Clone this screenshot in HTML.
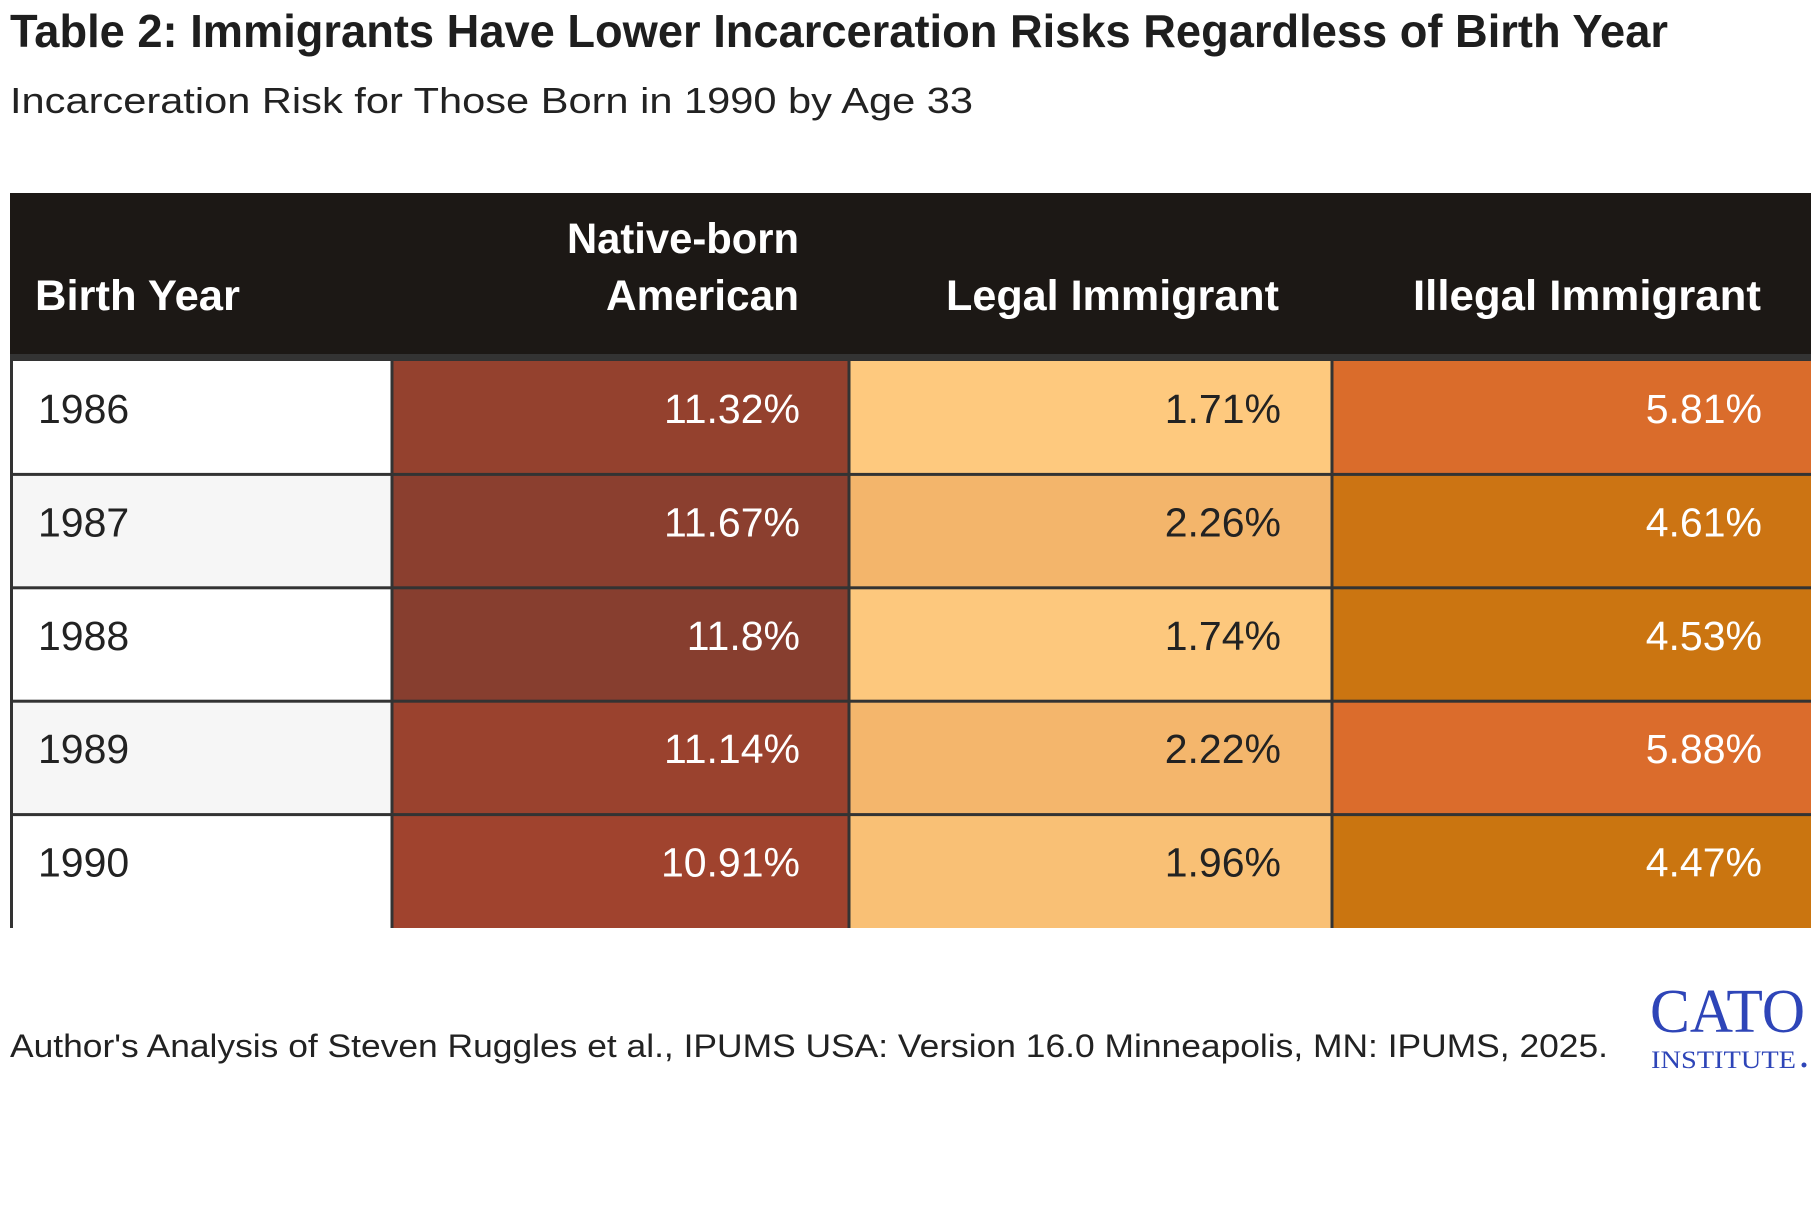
<!DOCTYPE html>
<html><head><meta charset="utf-8"><style>
html,body{margin:0;padding:0;background:#fff;width:1820px;height:1220px;overflow:hidden}
svg{display:block}
.sans{font-family:"Liberation Sans",sans-serif}
.serif{font-family:"Liberation Serif",serif}
</style></head><body>
<svg id="chart" class="sans" width="1820" height="1220" viewBox="0 0 1820 1220">
<text x="10" y="47" font-size="46" font-weight="bold" fill="#1e1e1e" textLength="1658" lengthAdjust="spacingAndGlyphs">Table 2: Immigrants Have Lower Incarceration Risks Regardless of Birth Year</text>
<text x="10" y="113" font-size="36" fill="#222" textLength="963" lengthAdjust="spacingAndGlyphs">Incarceration Risk for Those Born in 1990 by Age 33</text>
<g id="table"></g>
<text x="10" y="1057" font-size="32" fill="#222" textLength="1598" lengthAdjust="spacingAndGlyphs">Author's Analysis of Steven Ruggles et al., IPUMS USA: Version 16.0 Minneapolis, MN: IPUMS, 2025.</text>
<g class="serif">
<text class="serif" x="1650" y="1032" font-size="62" fill="#2e45b8" textLength="155" lengthAdjust="spacingAndGlyphs">CATO</text>
<text class="serif" x="1651" y="1068" font-size="25" fill="#2e45b8" textLength="145" lengthAdjust="spacingAndGlyphs">INSTITUTE</text>
<circle cx="1804" cy="1065" r="2.5" fill="#2e45b8"/>
</g>
</svg>
<script>
const years = ["1986","1987","1988","1989","1990"];
const nativeVals = [11.32, 11.67, 11.8, 11.14, 10.91];
const legalVals = [1.71, 2.26, 1.74, 2.22, 1.96];
const illegalVals = [5.81, 4.61, 4.53, 5.88, 4.47];
const nativeLabels = ["11.32%","11.67%","11.8%","11.14%","10.91%"];
const legalLabels = ["1.71%","2.26%","1.74%","2.22%","1.96%"];
const illegalLabels = ["5.81%","4.61%","4.53%","5.88%","4.47%"];

const NS="http://www.w3.org/2000/svg";
const g=document.getElementById('table');
function mk(tag,attrs,parent){const e=document.createElementNS(NS,tag);for(const k in attrs)e.setAttribute(k,attrs[k]);(parent||g).appendChild(e);return e;}
function lerp(a,b,t){return a.map((v,i)=>Math.round(v+(b[i]-v)*t));}
function rgb(c){return 'rgb('+c.join(',')+')';}
function nativeColor(v){const t=Math.max(0,Math.min(1,(v-10.91)/(11.8-10.91)));return rgb(lerp([160,67,46],[135,62,47],t));}
function legalColor(v){const t=Math.max(0,Math.min(1,(v-1.71)/(2.26-1.71)));return rgb(lerp([254,201,126],[243,181,107],t));}
function illegalColor(v){const t=Math.max(0,Math.min(1,(v-4.47)/(5.88-4.47)));return rgb(lerp([202,117,16],[219,108,44],t));}

const colX=[10,392,849,1332,1811];
const headTop=193, headBot=361, rowH=(928-361)/years.length;
function rowY(i){return headBot+i*rowH;}

const hdr=mk('rect',{x:10,y:headTop,width:1801,height:161,fill:'#1c1815'});


const hb=mk('rect',{x:10,y:354,width:1801,height:7,fill:'#333'});



const headers=[
 {lines:["Birth Year"],x:35,anchor:'start',w:[205]},
 {lines:["Native-born","American"],x:799,anchor:'end',w:[232,193]},
 {lines:["Legal Immigrant"],x:1279,anchor:'end',w:[333]},
 {lines:["Illegal Immigrant"],x:1761,anchor:'end',w:[348]}];
headers.forEach((h,ci)=>{
  h.lines.forEach((ln,li)=>{
    const y=h.lines.length===2?(li===0?253:310):310;
    const t=mk('text',{x:h.x,y:y,'text-anchor':h.anchor,'font-size':43,'font-weight':'bold',fill:'#fff',textLength:h.w[li],lengthAdjust:'spacingAndGlyphs'});
    t.textContent=ln;
    
    
  });
});

years.forEach((yr,i)=>{
  const y=rowY(i);
  const c0=mk('rect',{x:colX[0],y:y,width:colX[1]-colX[0],height:rowH,fill:i%2?'#f6f6f6':'#fff'});
  
  
  const cols=[[nativeVals,nativeLabels,nativeColor,800,'#fff'],[legalVals,legalLabels,legalColor,1281,'#222'],[illegalVals,illegalLabels,illegalColor,1762,'#fff']];
  cols.forEach((c,ci)=>{
    const r=mk('rect',{x:colX[ci+1],y:y,width:colX[ci+2]-colX[ci+1],height:rowH,fill:c[2](c[0][i])});
    
    
    const t=mk('text',{x:c[3],y:y+62,'text-anchor':'end','font-size':41,fill:c[4]});
    t.textContent=c[1][i];
    
    
  });
  const yt=mk('text',{x:38,y:y+62,'font-size':41,fill:'#222'});
  yt.textContent=yr;
  
  
});
for(let i=1;i<years.length;i++){
  const l=mk('rect',{x:10,y:rowY(i)-1.5,width:1801,height:3,fill:'#333'});
  
  
}
[10,392,849,1332].forEach((x,k)=>{
  const l=mk('rect',{x:k===0?10:x-1.5,y:headBot,width:3,height:928-headBot,fill:'#333'});
  
  
});
</script>
</body></html>
